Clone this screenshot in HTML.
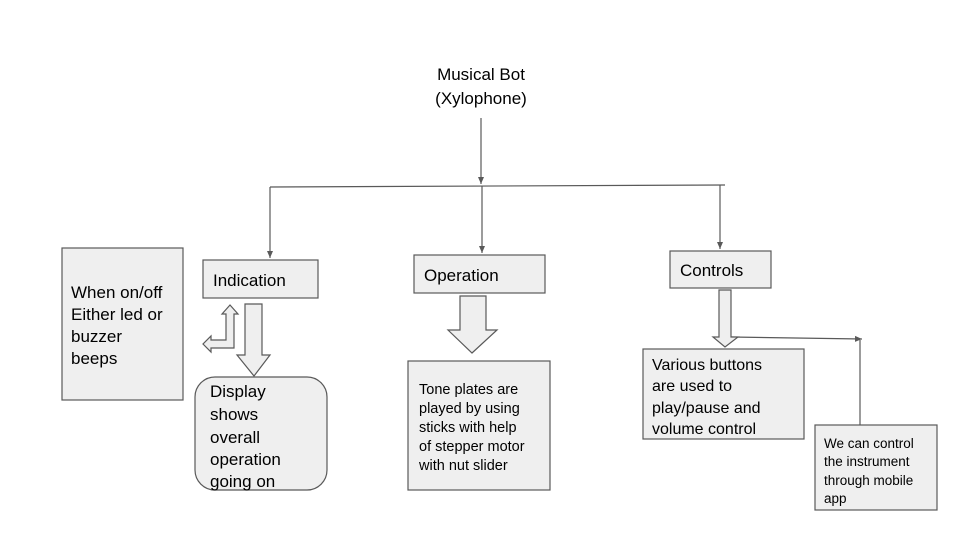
<!DOCTYPE html>
<html><head><meta charset="utf-8"><style>
html,body{margin:0;padding:0;background:#fff}
svg{display:block}
text{font-family:"Liberation Sans",Arial,sans-serif;fill:#000}
</style></head><body>
<svg width="960" height="540" viewBox="0 0 960 540" xmlns="http://www.w3.org/2000/svg">
<defs>
<marker id="a" markerWidth="8" markerHeight="8" refX="7" refY="4" orient="auto" markerUnits="userSpaceOnUse">
<path d="M0,1 L7,4 L0,7 z" fill="#595959"/></marker>
</defs>
<g font-size="17" text-anchor="middle">
<text x="481" y="80">Musical Bot</text>
<text x="481" y="104">(Xylophone)</text>
</g>
<g stroke="#595959" stroke-width="1.2" fill="none">
<line x1="481" y1="118" x2="481" y2="184" marker-end="url(#a)"/>
<line x1="270" y1="187" x2="725" y2="185"/>
<line x1="270" y1="187" x2="270" y2="258" marker-end="url(#a)"/>
<line x1="482" y1="186" x2="482" y2="253" marker-end="url(#a)"/>
<line x1="720" y1="185" x2="720" y2="249" marker-end="url(#a)"/>
<line x1="731" y1="337" x2="862" y2="339" marker-end="url(#a)"/>
<line x1="860" y1="340" x2="860" y2="425"/>
</g>
<g fill="#efefef" stroke="#595959" stroke-width="1.2">
<rect x="62" y="248" width="121" height="152"/>
<rect x="203" y="260" width="115" height="38"/>
<rect x="414" y="255" width="131" height="38"/>
<rect x="670" y="251" width="101" height="37"/>
<rect x="195" y="377" width="132" height="113" rx="20"/>
<rect x="408" y="361" width="142" height="129"/>
<rect x="643" y="349" width="161" height="90"/>
<rect x="815" y="425" width="122" height="85"/>
<path d="M245,304 H262 V355 H270 L254,376 L237,355 H245 Z"/>
<path d="M460,296 H486 V330 H497 L472,353 L448,330 H460 Z"/>
<path d="M719,290 H731 V337 H738 L725,347 L713,337 H719 Z"/>
<path d="M226,340 V314 H222 L230,305 L238,314 H234 V348 H211 V352 L203,344 L211,336 V340 Z"/>
</g>
<g font-size="17">
<text x="71" y="298">When on/off</text>
<text x="71" y="320">Either led or</text>
<text x="71" y="342">buzzer</text>
<text x="71" y="364">beeps</text>
<text x="213" y="286">Indication</text>
<text x="424" y="281">Operation</text>
<text x="680" y="276">Controls</text>
<text x="210" y="397">Display</text>
<text x="210" y="420">shows</text>
<text x="210" y="443">overall</text>
<text x="210" y="465">operation</text>
<text x="210" y="487">going on</text>
</g>
<g font-size="14.5">
<text x="419" y="394">Tone plates are</text>
<text x="419" y="413">played by using</text>
<text x="419" y="432">sticks with help</text>
<text x="419" y="451">of stepper motor</text>
<text x="419" y="470">with nut slider</text>
</g>
<g font-size="16">
<text x="652" y="370">Various buttons</text>
<text x="652" y="391">are used to</text>
<text x="652" y="413">play/pause and</text>
<text x="652" y="434">volume control</text>
</g>
<g font-size="13.5">
<text x="824" y="448">We can control</text>
<text x="824" y="466">the instrument</text>
<text x="824" y="485">through mobile</text>
<text x="824" y="503">app</text>
</g>
</svg>
</body></html>
